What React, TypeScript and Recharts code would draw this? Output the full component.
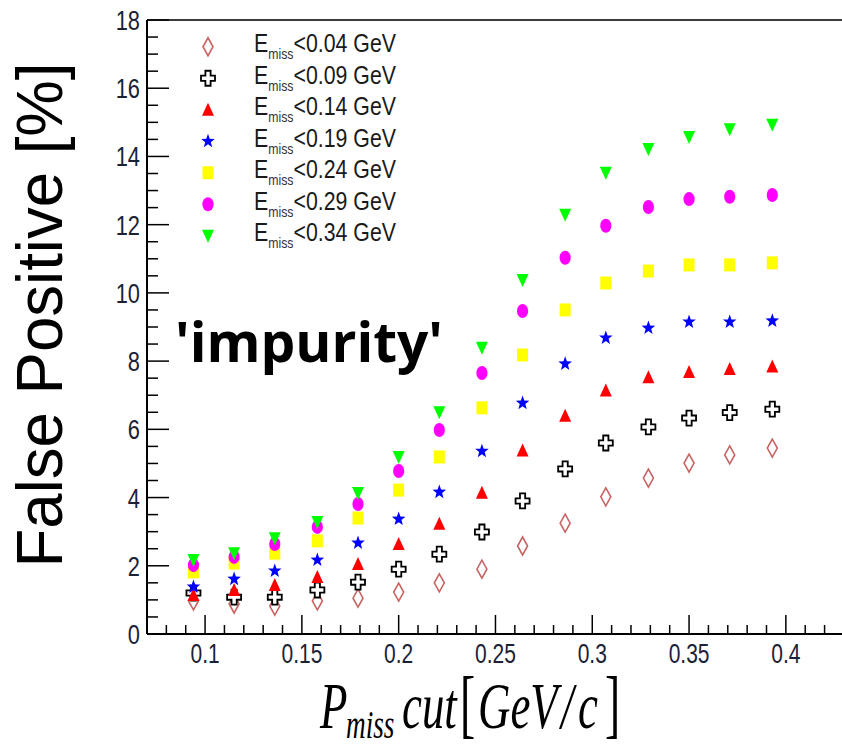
import React from 'react';
import { ScatterChart, Scatter, XAxis, YAxis, Legend, ReferenceLine } from 'recharts';

// P_miss cut values [GeV/c]
const pMissCut = [0.094, 0.115, 0.136, 0.158, 0.179, 0.2, 0.221, 0.243, 0.264, 0.286, 0.307, 0.329, 0.35, 0.371, 0.393];

// false positive [%] for each E_miss cut
const fpE004 = [0.97, 0.88, 0.82, 0.97, 1.05, 1.23, 1.5, 1.9, 2.58, 3.25, 4.02, 4.57, 5.01, 5.25, 5.45];
const fpE009 = [1.2, 1.08, 1.08, 1.29, 1.52, 1.9, 2.34, 2.99, 3.9, 4.84, 5.6, 6.07, 6.33, 6.49, 6.59];
const fpE014 = [1.14, 1.29, 1.44, 1.67, 2.05, 2.64, 3.23, 4.14, 5.38, 6.4, 7.14, 7.53, 7.68, 7.77, 7.84];
const fpE019 = [1.38, 1.61, 1.85, 2.17, 2.67, 3.37, 4.16, 5.36, 6.77, 7.92, 8.68, 8.97, 9.15, 9.15, 9.18];
const fpE024 = [1.82, 2.08, 2.37, 2.73, 3.4, 4.22, 5.19, 6.63, 8.18, 9.5, 10.29, 10.64, 10.82, 10.82, 10.88];
const fpE029 = [2.02, 2.26, 2.64, 3.14, 3.81, 4.78, 5.98, 7.65, 9.47, 11.03, 11.97, 12.52, 12.75, 12.82, 12.87];
const fpE034 = [2.17, 2.37, 2.81, 3.28, 4.13, 5.19, 6.5, 8.39, 10.38, 12.29, 13.52, 14.22, 14.57, 14.8, 14.93];

const eMissCuts = ['<0.04 GeV', '<0.09 GeV', '<0.14 GeV', '<0.19 GeV', '<0.24 GeV', '<0.29 GeV', '<0.34 GeV'];

const xMajorTicks = [0.1, 0.15, 0.2, 0.25, 0.3, 0.35, 0.4];
const yMajorTicks = [0, 2, 4, 6, 8, 10, 12, 14, 16, 18];

// minor ticks: 0.01 on x, 0.5 on y
const xTicks = Array.from({ length: 36 }, (_, i) => Number((0.07 + i * 0.01).toFixed(2)));
const yTicks = Array.from({ length: 37 }, (_, i) => i * 0.5);

type Kind = 'diamond' | 'cross' | 'triUp' | 'star' | 'square' | 'circle' | 'triDown';

const series: { name: string; values: number[]; kind: Kind; color: string }[] = [
  { name: eMissCuts[0], values: fpE004, kind: 'diamond', color: '#c86464' },
  { name: eMissCuts[1], values: fpE009, kind: 'cross', color: '#000000' },
  { name: eMissCuts[2], values: fpE014, kind: 'triUp', color: '#ff0000' },
  { name: eMissCuts[3], values: fpE019, kind: 'star', color: '#0000ff' },
  { name: eMissCuts[4], values: fpE024, kind: 'square', color: '#ffff00' },
  { name: eMissCuts[5], values: fpE029, kind: 'circle', color: '#ff00ff' },
  { name: eMissCuts[6], values: fpE034, kind: 'triDown', color: '#00ff00' },
];

const tickFont = '"Liberation Sans", Arial, sans-serif';
const tickColor = '#1c2236';

function starPoints(cx: number, cy: number) {
  const pts: string[] = [];
  for (let i = 0; i < 10; i++) {
    const r = i % 2 === 0 ? 7.5 : 3.1;
    const a = -Math.PI / 2 + (i * Math.PI) / 5;
    pts.push(`${cx + r * 0.95 * Math.cos(a)},${cy + r * Math.sin(a)}`);
  }
  return pts.join(' ');
}

function Marker({ kind, cx, cy, color }: { kind: Kind; cx: number; cy: number; color: string }) {
  switch (kind) {
    case 'diamond':
      return <polygon points={`${cx},${cy - 9} ${cx + 5},${cy} ${cx},${cy + 9} ${cx - 5},${cy}`} fill="none" stroke={color} strokeWidth={1.6} />;
    case 'cross': {
      const a = 2.6, w = 7, h = 7.5;
      const d = `M${cx - a},${cy - h}H${cx + a}V${cy - a}H${cx + w}V${cy + a}H${cx + a}V${cy + h}H${cx - a}V${cy + a}H${cx - w}V${cy - a}H${cx - a}Z`;
      return <path d={d} fill="#fff" stroke={color} strokeWidth={1.8} />;
    }
    case 'triUp':
      return <polygon points={`${cx},${cy - 7} ${cx + 6},${cy + 6} ${cx - 6},${cy + 6}`} fill={color} />;
    case 'triDown':
      return <polygon points={`${cx - 6},${cy - 6} ${cx + 6},${cy - 6} ${cx},${cy + 7}`} fill={color} />;
    case 'square':
      return <rect x={cx - 5.5} y={cy - 6.5} width={11} height={13} fill={color} />;
    case 'circle':
      return <ellipse cx={cx} cy={cy} rx={5.6} ry={7} fill={color} />;
    case 'star':
      return <polygon points={starPoints(cx, cy)} fill={color} />;
  }
  return null;
}

const XTick = (props: any) => {
  const { x, y, payload } = props;
  const v = payload.value;
  const major = xMajorTicks.some((m) => Math.abs(m - v) < 1e-6);
  return (
    <g>
      <line x1={x} x2={x} y1={y} y2={y - (major ? 19 : 9)} stroke="#000" strokeWidth={1.5} />
      {major && (
        <text transform={`translate(${x},${y + 29}) scale(0.75,1)`} textAnchor="middle" fontSize={28} fontFamily={tickFont} fill={tickColor}>
          {String(v)}
        </text>
      )}
    </g>
  );
};

const YTick = (props: any) => {
  const { x, y, payload } = props;
  const v = payload.value;
  const major = yMajorTicks.includes(v);
  return (
    <g>
      <line x1={x} x2={x + (major ? 22 : 11)} y1={y} y2={y} stroke="#000" strokeWidth={1.5} />
      {major && (
        <text transform={`translate(${x - 7},${y + 10}) scale(0.78,1)`} textAnchor="end" fontSize={28} fontFamily={tickFont} fill={tickColor}>
          {String(v)}
        </text>
      )}
    </g>
  );
};

const YLabel = (props: any) => {
  const vb = props.viewBox || { x: 0, y: 20, width: 147, height: 614 };
  const cy = vb.y + vb.height / 2 - 12;
  return (
    <text
      transform={`translate(62,${cy}) rotate(-90)`}
      textAnchor="middle"
      fontSize={64}
      fontFamily='"Liberation Sans", Arial, sans-serif'
      fill="#000"
      textLength={505}
      lengthAdjust="spacingAndGlyphs"
    >
      False Positive [%]
    </text>
  );
};

const XLabel = (props: any) => {
  const vb = props.viewBox || { x: 147, y: 634, width: 695, height: 113 };
  const base = vb.y + 94;
  const serif = '"Liberation Serif", "Times New Roman", serif';
  const piece = (x: number, y: number, s: string, size: number, italic = true, sx = 0.68) => (
    <text transform={`translate(${x},${y}) scale(${sx},1)`} fontSize={size} fontFamily={serif} fontStyle={italic ? 'italic' : 'normal'} fill="#000">
      {s}
    </text>
  );
  return (
    <g>
      {piece(vb.x + 173, base, 'P', 66)}
      {piece(vb.x + 199, base + 10, 'miss', 40)}
      {piece(vb.x + 255, base, 'cut', 66)}
      {piece(vb.x + 313, base + 1, '[', 76, false, 0.6)}
      {piece(vb.x + 331, base, 'GeV', 66)}
      {piece(vb.x + 414, base, '/', 66)}
      {piece(vb.x + 431, base, 'c', 66)}
      {piece(vb.x + 458, base + 1, ']', 76, false, 0.6)}
    </g>
  );
};

const LegendBox = (props: any) => {
  const payload: any[] = props.payload || [];
  const rowH = 31.5;
  const pad = 8;
  return (
    <svg width={260} height={rowH * 7 + pad * 2} style={{ display: 'block', overflow: 'visible' }}>
      {payload.map((entry, i) => {
        const s = series.find((d) => d.name === entry.value) || series[i];
        const cy = pad + rowH / 2 + i * rowH;
        return (
          <g key={s.name}>
            <Marker kind={s.kind} cx={12} cy={cy} color={s.color} />
            <text transform={`translate(58,${cy + 5.5}) scale(0.82,1)`} fontSize={26} fontFamily={tickFont} fill="#1a1a1a">
              E
              <tspan fontSize={15} dy={7} fill="#333">miss</tspan>
              <tspan fontSize={26} dy={-7}>{s.name}</tspan>
            </text>
          </g>
        );
      })}
    </svg>
  );
};

export default function App() {
  return (
    <div style={{ position: 'absolute', left: 0, top: 0, width: 842, height: 747, background: '#fff' }}>
      <ScatterChart width={842} height={747} margin={{ top: 20, right: 0, bottom: 0, left: 0 }}>
        <XAxis
          type="number"
          dataKey="x"
          domain={[0.07, 0.429]}
          ticks={xTicks}
          interval={0}
          tick={<XTick />}
          tickSize={0}
          tickMargin={0}
          tickLine={false}
          axisLine={{ stroke: '#000', strokeWidth: 2 }}
          height={113}
          allowDataOverflow
          label={(p: any) => <XLabel {...p} />}
        />
        <YAxis
          type="number"
          dataKey="y"
          domain={[0, 18]}
          ticks={yTicks}
          interval={0}
          tick={<YTick />}
          tickSize={0}
          tickMargin={0}
          tickLine={false}
          axisLine={{ stroke: '#000', strokeWidth: 2 }}
          width={147}
          label={(p: any) => <YLabel {...p} />}
        />
        <ReferenceLine y={18} stroke="#3c3c3c" strokeWidth={2} />
        <Legend
          layout="vertical"
          align="center"
          verticalAlign="middle"
          content={<LegendBox />}
          wrapperStyle={{ position: 'absolute', left: 196, top: 23, width: 260 }}
        />
        {series.map((s) => (
          <Scatter
            key={s.name}
            name={s.name}
            data={pMissCut.map((x, i) => ({ x, y: s.values[i] }))}
            fill={s.color}
            isAnimationActive={false}
            shape={(p: any) => <Marker kind={s.kind} cx={p.cx} cy={p.cy} color={s.color} />}
          />
        ))}
      </ScatterChart>
      <svg width={842} height={747} style={{ position: 'absolute', left: 0, top: 0, pointerEvents: 'none' }}>
        <text
          x={175}
          y={362}
          fontSize={56}
          fontWeight={700}
          fontFamily='"Open Sans", "Noto Sans", sans-serif'
          fill="#000"
          textLength={268}
          lengthAdjust="spacingAndGlyphs"
        >
          'impurity'
        </text>
      </svg>
    </div>
  );
}
